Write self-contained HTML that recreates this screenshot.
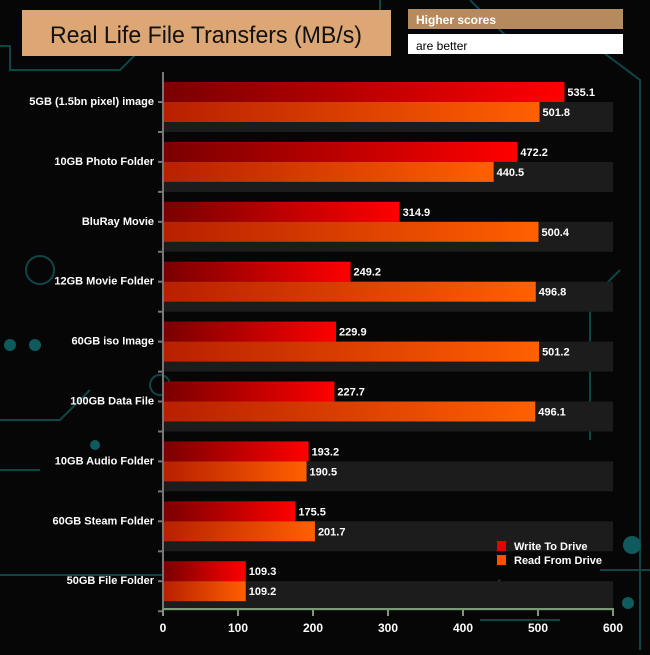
<!DOCTYPE html>
<html><head><style>
body{margin:0;width:650px;height:650px;background:#060606;overflow:hidden;font-family:"Liberation Sans",sans-serif}
</style></head><body>
<svg width="650" height="650" xmlns="http://www.w3.org/2000/svg" font-family="Liberation Sans, sans-serif">
<defs>
<linearGradient id="w" x1="0" x2="1"><stop offset="0" stop-color="#7a0000"/><stop offset="1" stop-color="#ff0000"/></linearGradient>
<linearGradient id="r" x1="0" x2="1"><stop offset="0" stop-color="#b82000"/><stop offset="1" stop-color="#ff6000"/></linearGradient>
</defs>
<rect width="650" height="650" fill="#060606"/>
<g stroke="#0f4d50" stroke-width="2" fill="none" opacity="0.9">
<path d="M0 46 H10 V70 H120 L150 40"/>
<path d="M380 0 V20"/><path d="M470 0 L520 50 H600 L640 80 V650"/>
<path d="M0 420 H60 L90 390"/><path d="M0 470 H40"/>
<path d="M0 575 H170"/><path d="M600 570 H650"/>
<path d="M400 610 H470 L500 580"/><path d="M480 620 H560"/>
<path d="M590 440 V300 L620 270"/>
<circle cx="40" cy="270" r="14"/><circle cx="160" cy="385" r="10"/>
</g>
<g fill="#0f5a5c"><circle cx="632" cy="545" r="9"/><circle cx="628" cy="603" r="6"/><circle cx="95" cy="445" r="5"/><circle cx="10" cy="345" r="6"/><circle cx="35" cy="345" r="6"/></g>
<rect x="22" y="10" width="369" height="46" fill="#dca774"/>
<text x="50" y="43" font-size="24" textLength="312" lengthAdjust="spacingAndGlyphs" fill="#111">Real Life File Transfers (MB/s)</text>
<rect x="408" y="9" width="215" height="20" fill="#b58a5e"/>
<text x="416" y="24" font-size="12" font-weight="bold" fill="#fff">Higher scores</text>
<rect x="408" y="34" width="215" height="20" fill="#fff"/>
<text x="416" y="50" font-size="12" fill="#000">are better</text>
<g id="rows" font-size="11" font-weight="bold" fill="#fff"></g>
<line x1="163" y1="72" x2="163" y2="610" stroke="#777" stroke-width="2"/>
<line x1="163" y1="609" x2="614" y2="609" stroke="#7a9a78" stroke-width="2"/>
<g stroke="#7a9a78" stroke-width="2">
<line x1="163" y1="609" x2="163" y2="616"/><line x1="238" y1="609" x2="238" y2="616"/><line x1="313" y1="609" x2="313" y2="616"/><line x1="388" y1="609" x2="388" y2="616"/><line x1="463" y1="609" x2="463" y2="616"/><line x1="538" y1="609" x2="538" y2="616"/><line x1="613" y1="609" x2="613" y2="616"/></g>
<g font-size="12" font-weight="bold" fill="#fff" text-anchor="middle">
<text x="163" y="632">0</text><text x="238" y="632">100</text><text x="313" y="632">200</text><text x="388" y="632">300</text><text x="463" y="632">400</text><text x="538" y="632">500</text><text x="613" y="632">600</text></g>
<rect x="497" y="541" width="9" height="10" fill="#e00000"/>
<rect x="497" y="555" width="9" height="10" fill="#ff5000"/>
<g font-size="11" font-weight="bold" fill="#fff"><text x="514" y="550">Write To  Drive</text><text x="514" y="564">Read From  Drive</text></g>
</svg>
<script>
var d=[["5GB (1.5bn pixel) image",535.1,501.8],["10GB Photo Folder",472.2,440.5],["BluRay Movie",314.9,500.4],["12GB Movie Folder",249.2,496.8],["60GB iso Image",229.9,501.2],["100GB Data File",227.7,496.1],["10GB Audio Folder",193.2,190.5],["60GB Steam Folder",175.5,201.7],["50GB File Folder",109.3,109.2]];
var g=document.getElementById('rows'),s='',k=449/600;
d.forEach(function(r,i){var y=82+59.9*i;
s+='<rect x="164" y="'+(y+20)+'" width="449" height="30" fill="#1c1c1c"/>';
s+='<rect x="164" y="'+y+'" width="'+r[1]*k+'" height="20" fill="url(#w)"/>';
s+='<rect x="164" y="'+(y+20)+'" width="'+r[2]*k+'" height="20" fill="url(#r)"/>';
s+='<text x="'+(167+r[1]*k)+'" y="'+(y+14)+'">'+r[1].toFixed(1)+'</text>';
s+='<text x="'+(167+r[2]*k)+'" y="'+(y+34)+'">'+r[2].toFixed(1)+'</text>';
s+='<text x="154" y="'+(y+23)+'" text-anchor="end">'+r[0]+'</text>';
s+='<line x1="158" y1="'+(y+50)+'" x2="163" y2="'+(y+50)+'" stroke="#777" stroke-width="2"/>';
s+='<line x1="158" y1="'+(y+20)+'" x2="163" y2="'+(y+20)+'" stroke="#777" stroke-width="2"/>';});
g.innerHTML=s;
</script>
</body></html>
